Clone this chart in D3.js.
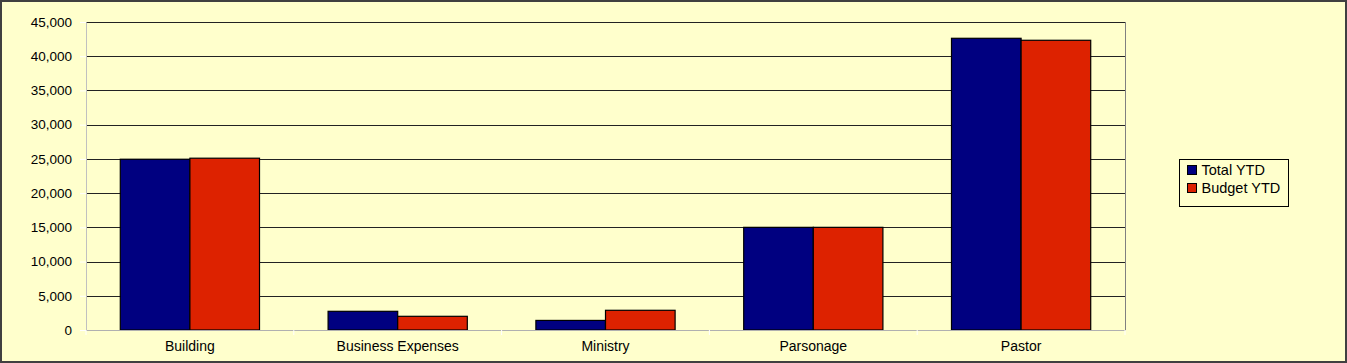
<!DOCTYPE html>
<html>
<head>
<meta charset="UTF-8">
<title>YTD vs Budget</title>
<script src="https://d3js.org/d3.v7.min.js"></script>
<style>
  html, body { margin: 0; padding: 0; background: #ffffcc; }
  svg { display: block; font-family: "Liberation Sans", Arial, sans-serif; }
</style>
</head>
<body>
<div id="chart"></div>
<script>
// data
const categories = ['Building', 'Business Expenses', 'Ministry', 'Parsonage', 'Pastor'];
const seriesNames = ['Total YTD', 'Budget YTD'];
const totalYTD = [24950, 2730, 1400, 15000, 42620];
const budgetYTD = [25100, 2000, 2880, 15000, 42330];
const yTicks = [0, 5000, 10000, 15000, 20000, 25000, 30000, 35000, 40000, 45000];
const colors = ['#000080', '#dd2200'];

const W = 1347, H = 363;
const margin = { top: 22, right: 222, bottom: 33, left: 86 };
const w = W - margin.left - margin.right;
const h = H - margin.top - margin.bottom;

const svg = d3.select('#chart').append('svg')
  .attr('width', W).attr('height', H);

// outer frame
svg.append('rect')
  .attr('x', 1).attr('y', 1).attr('width', W - 2).attr('height', H - 2)
  .attr('fill', '#ffffcc').attr('stroke', '#404040').attr('stroke-width', 2);

const g = svg.append('g').attr('transform', `translate(${margin.left},${margin.top})`);

const y = d3.scaleLinear().domain([0, 45000]).range([h, 0]);
const x0 = d3.scaleBand().domain(categories).range([0, w]).paddingInner(0.33).paddingOuter(0.165);
const x1 = d3.scaleBand().domain(seriesNames).range([0, x0.bandwidth()]);

// gridlines
g.append('g').selectAll('line')
  .data(yTicks.filter(d => d > 0))
  .enter().append('line')
  .attr('x1', 0).attr('x2', w)
  .attr('y1', d => Math.round(y(d)) + 0.5).attr('y2', d => Math.round(y(d)) + 0.5)
  .attr('stroke', '#222').attr('stroke-width', 1.2);

// plot area right border
g.append('line')
  .attr('x1', w + 0.5).attr('x2', w + 0.5).attr('y1', 0).attr('y2', h)
  .attr('stroke', '#808080');

// y axis
const yAxis = g.append('g')
  .call(d3.axisLeft(y).tickValues(yTicks).tickSize(6).tickPadding(8).tickFormat(d3.format(',')));
yAxis.select('.domain').attr('stroke', '#c0c0c0');
yAxis.selectAll('.tick line').attr('stroke', '#ffffff');
yAxis.selectAll('text').attr('font-size', 13.5).attr('fill', '#000')
  .attr('font-family', '"Liberation Sans", Arial, sans-serif');

// bars
const series = [totalYTD, budgetYTD];
const groups = g.append('g').selectAll('g')
  .data(categories)
  .enter().append('g')
  .attr('transform', d => `translate(${x0(d)},0)`);

groups.selectAll('rect')
  .data((d, i) => seriesNames.map((s, j) => ({ s, v: series[j][i], c: colors[j] })))
  .enter().append('rect')
  .attr('x', d => x1(d.s))
  .attr('y', d => y(d.v))
  .attr('width', x1.bandwidth())
  .attr('height', d => h - y(d.v))
  .attr('fill', d => d.c)
  .attr('stroke', '#000').attr('stroke-width', 1.2);

// x axis
const step = x0.step();
const xAxis = g.append('g').attr('transform', `translate(0,${h})`)
  .call(d3.axisBottom(x0).tickSize(0).tickPadding(11));
xAxis.select('.domain').attr('stroke', '#b0b0b0');
xAxis.selectAll('text').attr('font-size', 14).attr('fill', '#000')
  .attr('font-family', '"Liberation Sans", Arial, sans-serif');
// tick marks between categories
xAxis.append('g').selectAll('line')
  .data(d3.range(categories.length + 1))
  .enter().append('line')
  .attr('x1', i => i * step).attr('x2', i => i * step)
  .attr('y1', 0).attr('y2', 5)
  .attr('stroke', '#ffffff');

// legend
const lg = svg.append('g').attr('transform', 'translate(1179.5,159.5)');
lg.append('rect').attr('width', 109).attr('height', 47)
  .attr('fill', '#ffffcc').attr('stroke', '#000');
seriesNames.forEach((s, i) => {
  lg.append('rect')
    .attr('x', 8).attr('y', 6 + i * 18).attr('width', 9).attr('height', 9)
    .attr('fill', colors[i]).attr('stroke', '#000');
  lg.append('text')
    .attr('x', 22).attr('y', 15.5 + i * 18)
    .attr('font-size', 14.5).attr('fill', '#000')
    .text(s);
});
</script>
</body>
</html>
